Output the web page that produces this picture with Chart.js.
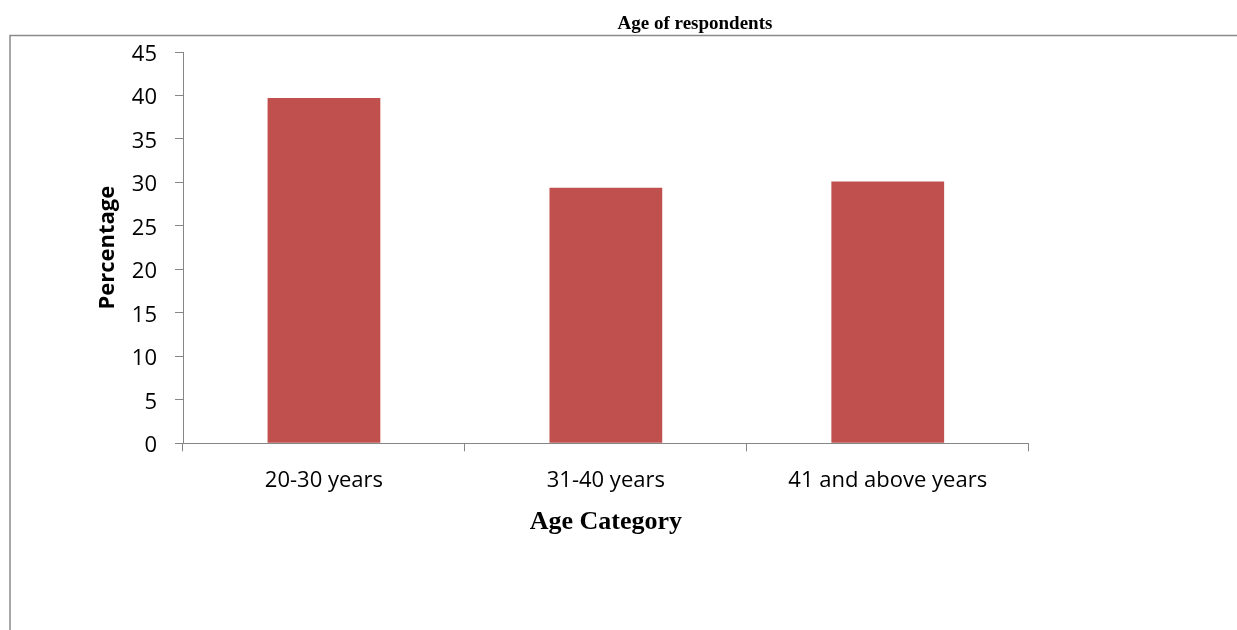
<!DOCTYPE html>
<html>
<head>
<meta charset="utf-8">
<script src="https://cdn.jsdelivr.net/npm/chart.js@4.4.1/dist/chart.umd.min.js"></script>
<style>
  html, body { margin: 0; padding: 0; background: #ffffff; }
  #wrap { width: 1237px; height: 630px; position: relative; }
</style>
</head>
<body>
<div id="wrap"><canvas id="chart" width="1237" height="630"></canvas></div>
<script>
// Age groups and share of respondents (%)
const categories = ['20-30 years', '31-40 years', '41 and above years'];
const percentages = [39.7, 29.4, 30.1];
const yTickValues = [0, 5, 10, 15, 20, 25, 30, 35, 40, 45];

const chartTitle = 'Age of respondents';
const xAxisTitle = 'Age Category';
const yAxisTitle = 'Percentage';

const axisGrey = '#868686';

// Frame lines and the heading above the plot
const framePlugin = {
  id: 'frame',
  beforeDraw(chart) {
    const ctx = chart.ctx;
    ctx.save();
    ctx.strokeStyle = '#8a8a8a';
    ctx.lineWidth = 1.5;
    ctx.beginPath();
    ctx.moveTo(10, 630);
    ctx.lineTo(10, 35.5);
    ctx.lineTo(1237, 35.5);
    ctx.stroke();
    ctx.restore();
  },
  afterDraw(chart) {
    const ctx = chart.ctx;
    ctx.save();
    ctx.fillStyle = '#000';
    ctx.font = 'bold 19px "Liberation Serif", serif';
    ctx.textAlign = 'center';
    ctx.textBaseline = 'alphabetic';
    ctx.fillText(chartTitle, 695, 29);
    ctx.restore();
  }
};

new Chart(document.getElementById('chart'), {
  type: 'bar',
  data: {
    labels: categories,
    datasets: [{
      data: percentages,
      backgroundColor: '#C0504D',
      borderWidth: 0,
      categoryPercentage: 1.0,
      barPercentage: 0.4
    }]
  },
  options: {
    responsive: false,
    animation: false,
    events: [],
    layout: { padding: { top: 52, right: 208.3, left: 0, bottom: 0 } },
    plugins: {
      legend: { display: false },
      tooltip: { enabled: false },
      title: { display: false }
    },
    scales: {
      x: {
        grid: { drawOnChartArea: false, drawTicks: true, tickLength: 8, color: axisGrey, offset: true },
        border: { color: axisGrey, width: 1 },
        ticks: {
          color: '#000',
          padding: 16,
          font: { family: '"Open Sans", sans-serif', size: 22 }
        },
        title: {
          display: true,
          text: xAxisTitle,
          color: '#000',
          font: { family: '"Liberation Serif", serif', size: 26, weight: 'bold' },
          padding: { top: 0, bottom: 92 }
        },
        afterFit(scale) { scale.height = 186.7; }
      },
      y: {
        min: 0,
        max: 45,
        grid: { drawOnChartArea: false, drawTicks: true, tickLength: 8, color: axisGrey },
        border: { color: axisGrey, width: 1 },
        afterBuildTicks(scale) { scale.ticks = yTickValues.map(v => ({ value: v })); },
        ticks: {
          color: '#000',
          padding: 18,
          labelOffset: 2.5,
          font: { family: '"Open Sans", sans-serif', size: 22 }
        },
        title: {
          display: true,
          text: yAxisTitle,
          color: '#000',
          font: { family: '"Open Sans", sans-serif', size: 22, weight: 'bold' },
          padding: { top: 95, bottom: 0 }
        },
        afterFit(scale) { scale.width = 183; }
      }
    }
  },
  plugins: [framePlugin]
});
</script>
</body>
</html>
